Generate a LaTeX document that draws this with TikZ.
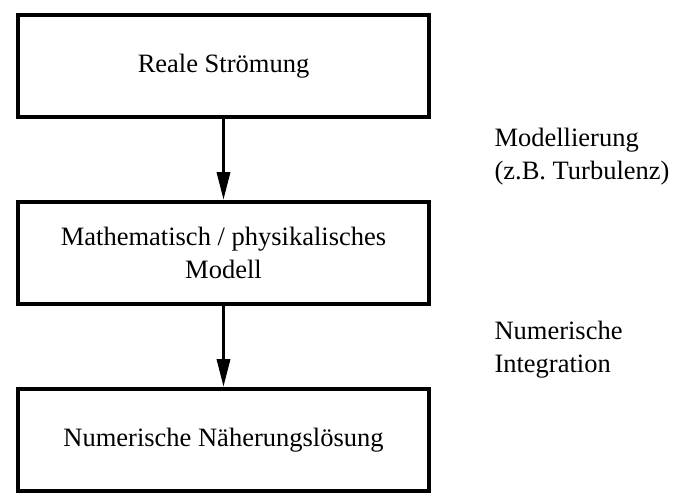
\documentclass[tikz,border=0pt]{standalone}
\usepackage{fontspec}
\setmainfont{Liberation Serif}
\usetikzlibrary{arrows.meta,positioning}

\begin{document}
\begin{tikzpicture}[>={Triangle[length=28pt,width=13pt]}, node distance = 81pt, x=1pt, y=-1pt]
\tikzstyle{stage}=[draw=black, line width=4pt, minimum width=411pt, minimum height=102pt, align=center, font=\fontsize{26.5}{33}\selectfont]
\tikzstyle{note}=[anchor=west, align=left, font=\fontsize{26.5}{33}\selectfont]

\useasboundingbox (0,0) rectangle (675,495);

\node[stage]	(real)	at (223.5,66)		{Reale Strömung};
\node[stage]	(model)	[below=of real]		{Mathematisch / physikalisches\\Modell};
\node[stage]	(num)	[below=of model]	{Numerische Näherungslösung};

\node[note]	(modl)	at (491,157)	{Modellierung\\(z.B. Turbulenz)};
\node[note]	(integ)	at (491,350)	{Numerische\\Integration};

\path[->, line width=3.5pt]
	(real)	edge	(model)
	(model)	edge	(num)
;

\end{tikzpicture}
\end{document}
